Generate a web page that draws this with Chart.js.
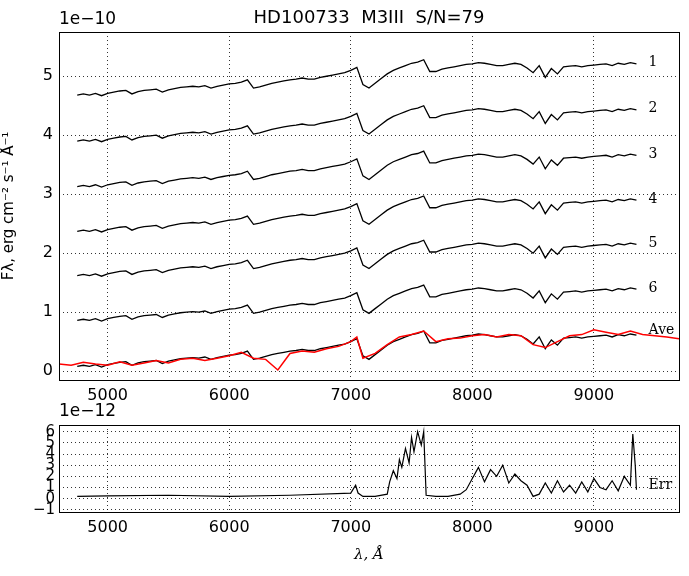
<!DOCTYPE html>
<html><head><meta charset="utf-8">
<script src="https://cdn.jsdelivr.net/npm/chart.js@4"></script>
<style>body{margin:0;background:#fff}canvas{position:absolute;left:0;top:0}</style>
</head><body>
<canvas id="c1" width="689" height="576"></canvas>
<canvas id="c2" width="689" height="576"></canvas>
<script>
const waves = [4750,4800,4850,4900,4950,5000,5050,5100,5150,5200,5250,5300,5350,5400,5450,5500,5550,5600,5650,5700,5750,5800,5850,5900,5950,6000,6050,6100,6150,6200,6250,6300,6350,6400,6450,6500,6550,6600,6650,6700,6750,6800,6850,6900,6950,7000,7050,7100,7150,7200,7250,7300,7350,7400,7450,7500,7550,7600,7650,7700,7750,7800,7850,7900,7950,8000,8050,8100,8150,8200,8250,8300,8350,8400,8450,8500,8550,8600,8650,8700,8750,8800,8850,8900,8950,9000,9050,9100,9150,9200,9250,9300,9350];
const baseShape = [0,0.02,0.0,0.03,-0.01,0.03,0.05,0.07,0.08,0.02,0.06,0.08,0.09,0.1,0.05,0.09,0.11,0.13,0.14,0.15,0.14,0.16,0.12,0.15,0.17,0.19,0.2,0.22,0.26,0.12,0.14,0.17,0.2,0.22,0.24,0.26,0.27,0.29,0.27,0.27,0.3,0.32,0.34,0.36,0.38,0.42,0.47,0.18,0.12,0.2,0.28,0.36,0.42,0.46,0.5,0.54,0.56,0.6,0.4,0.4,0.44,0.46,0.48,0.5,0.52,0.53,0.55,0.54,0.52,0.5,0.5,0.52,0.54,0.52,0.46,0.38,0.5,0.3,0.45,0.36,0.48,0.49,0.5,0.48,0.5,0.51,0.52,0.53,0.5,0.54,0.52,0.55,0.53];
const offsets = [4.68,3.90,3.13,2.37,1.62,0.86,0.08];
const labels = ["1","2","3","4","5","6","Ave"];
const redWaves = [4600,4700,4800,4900,5000,5100,5200,5300,5400,5500,5600,5700,5800,5900,6000,6100,6200,6300,6400,6500,6600,6700,6800,6900,7000,7050,7100,7200,7300,7400,7500,7600,7700,7800,7900,8000,8100,8200,8300,8400,8500,8600,8700,8800,8900,9000,9100,9200,9300,9400,9500,9600,9700];
const redFlux = [0.12,0.1,0.15,0.12,0.1,0.16,0.1,0.14,0.18,0.14,0.2,0.22,0.18,0.22,0.26,0.32,0.22,0.2,0.02,0.3,0.34,0.32,0.38,0.42,0.5,0.58,0.22,0.3,0.45,0.58,0.62,0.68,0.5,0.55,0.56,0.6,0.62,0.58,0.62,0.6,0.45,0.4,0.5,0.6,0.62,0.7,0.66,0.62,0.68,0.62,0.6,0.58,0.55];
const errWaves = [4750,5000,5500,6000,6500,7000,7040,7060,7100,7200,7300,7320,7350,7380,7400,7420,7450,7480,7500,7520,7550,7580,7600,7620,7700,7800,7900,7950,8000,8050,8100,8150,8200,8250,8300,8350,8400,8450,8500,8550,8600,8650,8700,8750,8800,8850,8900,8950,9000,9050,9100,9150,9200,9250,9300,9320,9340,9350];
const errVals = [0.2,0.25,0.3,0.2,0.3,0.5,1.2,0.5,0.2,0.2,0.4,1.5,2.5,1.8,3.5,2.8,4.5,3.2,5.5,4.2,6.0,4.8,6.0,0.3,0.2,0.2,0.4,0.8,1.8,2.8,1.5,2.6,2.0,3.0,1.4,2.2,1.6,1.2,0.2,0.4,1.4,0.5,1.6,0.6,1.2,0.5,1.5,0.6,1.8,1.0,0.8,1.6,0.7,2.0,1.2,5.8,3.0,0.8];
const xTicks=[5000,6000,7000,8000,9000];

const pairs=(xs,ys)=>xs.map((x,i)=>({x,y:ys[i]}));
const ds=[{data:pairs(redWaves,redFlux),borderColor:'#ff0000',borderWidth:1.5,pointRadius:0}];
offsets.forEach(o=>ds.push({data:pairs(waves,baseShape.map(v=>v+o)),borderColor:'#000',borderWidth:1.3,pointRadius:0}));

const boxPlugin={id:'box',afterDraw(c){const a=c.chartArea,g=c.ctx;g.save();g.strokeStyle='#000';g.lineWidth=1;g.strokeRect(a.left+.5,a.top+.5,a.width,a.height);g.restore();}};
const grid={color:'#000',lineWidth:0.8,drawTicks:false};
const border={dash:[1,3],display:false};
const font={family:'DejaVu Sans',size:16};
const fmt=v=>String(v).replace('-','−');
const tk={font,color:'#000',padding:6,autoSkip:false,callback:fmt};

new Chart(document.getElementById('c1'),{type:'line',data:{datasets:ds},
options:{responsive:false,animation:false,events:[],layout:{padding:{top:32,right:10}},
plugins:{legend:{display:false},tooltip:{enabled:false}},
scales:{x:{type:'linear',min:4600,max:9700,afterFit(s){s.height=196},afterBuildTicks(s){s.ticks=xTicks.map(v=>({value:v}))},grid,border,ticks:tk},
y:{min:-0.15,max:5.75,afterFit(s){s.width=59},afterBuildTicks(s){s.ticks=[0,1,2,3,4,5].map(v=>({value:v}))},grid,border,ticks:tk,
title:{display:true,text:'Fλ, erg cm⁻² s⁻¹ Å⁻¹',font:{family:'DejaVu Sans',size:15},color:'#000',padding:0}}}},
plugins:[boxPlugin,{id:'lab',afterDraw(c){const g=c.ctx,x=c.scales.x,y=c.scales.y;g.save();g.fillStyle='#000';g.font='14px "DejaVu Serif"';g.textBaseline='middle';
labels.forEach((l,i)=>g.fillText(l,x.getPixelForValue(9450),y.getPixelForValue(offsets[i]+(i==6?0.62:0.55))));
g.font='18px "DejaVu Sans"';g.textAlign='center';g.fillText('HD100733  M3III  S/N=79',369,18);
g.font='17px "DejaVu Sans"';g.textAlign='left';g.fillText('1e−10',59,20);g.restore();}}]});

new Chart(document.getElementById('c2'),{type:'line',data:{datasets:[{data:pairs(errWaves,errVals),borderColor:'#000',borderWidth:1.2,pointRadius:0}]},
options:{responsive:false,animation:false,events:[],layout:{padding:{top:425,right:10,bottom:8}},
plugins:{legend:{display:false},tooltip:{enabled:false}},
scales:{x:{type:'linear',min:4600,max:9700,afterFit(s){s.height=56},afterBuildTicks(s){s.ticks=xTicks.map(v=>({value:v}))},grid,border,ticks:tk,
title:{display:true,text:'λ, Å',font:{family:'DejaVu Serif',size:15,style:'italic'},color:'#000',padding:{top:2}}},
y:{min:-1.2,max:6.6,afterFit(s){s.width=59},afterBuildTicks(s){s.ticks=[-1,0,1,2,3,4,5,6].map(v=>({value:v}))},grid,border,ticks:{...tk,font:{family:'DejaVu Sans',size:15},padding:4}}}},
plugins:[boxPlugin,{id:'lab2',afterDraw(c){const g=c.ctx,x=c.scales.x,y=c.scales.y;g.save();g.fillStyle='#000';g.font='14px "DejaVu Serif"';g.textBaseline='middle';
g.fillText('Err',x.getPixelForValue(9450),y.getPixelForValue(1.2));g.font='17px "DejaVu Sans"';g.fillText('1e−12',59,412);g.restore();}}]});
</script></body></html>
